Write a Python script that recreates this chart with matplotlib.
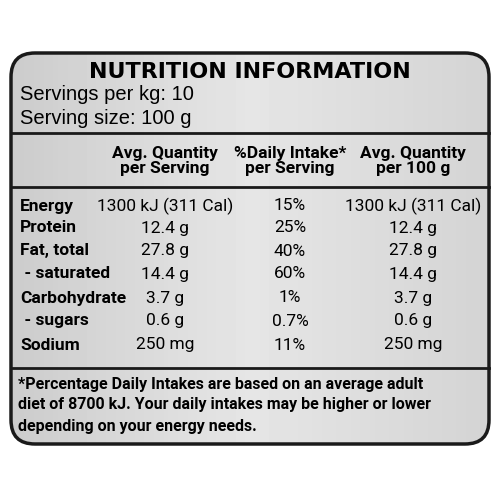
import matplotlib.pyplot as plt
from matplotlib.patches import FancyBboxPatch
import numpy as np

title = "NUTRITION INFORMATION"
servings = ["Servings per kg: 10", "Serving size: 100 g"]
headers = ["Avg. Quantity\nper Serving", "%Daily Intake*\nper Serving", "Avg. Quantity\nper 100 g"]
nutrients = ["Energy", "Protein", "Fat, total", " - saturated", "Carbohydrate", " - sugars", "Sodium"]
per_serving = ["1300 kJ (311 Cal)", "12.4 g", "27.8 g", "14.4 g", "3.7 g", "0.6 g", "250 mg"]
daily_intake = ["15%", "25%", "40%", "60%", "1%", "0.7%", "11%"]
per_100g = ["1300 kJ (311 Cal)", "12.4 g", "27.8 g", "14.4 g", "3.7 g", "0.6 g", "250 mg"]
footnote = ["*Percentage Daily Intakes are based on an average adult",
            "diet of 8700 kJ. Your daily intakes may be higher or lower",
            "depending on your energy needs."]

narrow = ["Liberation Sans Narrow", "Roboto", "DejaVu Sans"]

fig = plt.figure(figsize=(5, 5), dpi=100)
ax = fig.add_axes([0, 0, 1, 1])
ax.set_xlim(0, 500)
ax.set_ylim(500, 0)
ax.axis("off")

# brushed metal background
grad = np.tile(np.concatenate([np.linspace(0.8, 0.9, 50), np.linspace(0.9, 0.83, 50)]), (10, 1))
img = ax.imshow(grad, cmap="gray", vmin=0, vmax=1, extent=(10, 490, 445, 52), aspect="auto", zorder=0)
box = FancyBboxPatch((11, 53), 478, 391, boxstyle="round,pad=0,rounding_size=24",
                     fc="none", ec="#1a1a1a", lw=2.5, zorder=3)
ax.add_patch(box)
img.set_clip_path(box)

for y in [133, 187, 368]:
    ax.plot([11, 489], [y, y], color="#1a1a1a", lw=2, zorder=2)

ax.text(250, 72, title, ha="center", va="center", fontsize=16, fontweight="heavy", family="DejaVu Sans")
for i, s in enumerate(servings):
    ax.text(20, 95 + i * 24, s, ha="left", va="center", fontsize=14.5, family=["Liberation Sans", "DejaVu Sans"])

cols = [165, 290, 413]
for x, h in zip(cols, headers):
    ax.text(x, 161, h, ha="center", va="center", fontsize=12.5, fontweight="bold",
            family=narrow, linespacing=1.0)

rows_y = [206, 228, 251, 274, 298, 321, 345]
for y, n, a, d, b in zip(rows_y, nutrients, per_serving, daily_intake, per_100g):
    ax.text(20, y, n, ha="left", va="center", fontsize=12.5, fontweight="bold", family=narrow)
    for x, v in zip(cols, [a, d, b]):
        ax.text(x, y, v, ha="center", va="center", fontsize=12.5, family=narrow)

for i, s in enumerate(footnote):
    ax.text(18, 384 + i * 21, s, ha="left", va="center", fontsize=11.5, fontweight="bold", family=narrow)

fig.savefig("out.png", dpi=100)
